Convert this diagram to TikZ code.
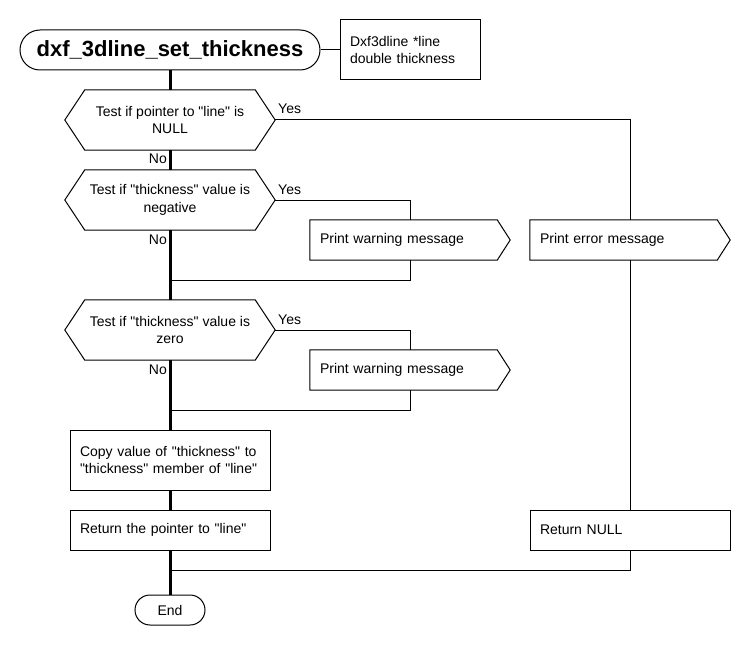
\documentclass[tikz,border=0pt]{standalone}
\usepackage{fontspec}
\setmainfont{Liberation Sans}[Ligatures=TeXOff]
\usetikzlibrary{calc}
\begin{document}
\begin{tikzpicture}[x=1pt,y=-1pt,
  every node/.style={font=\fontsize{14}{17.5}\selectfont},
  thin line/.style={draw=black,line width=1pt},
  thick line/.style={draw=black,line width=3pt},
  hexnode/.style={minimum width=210pt,minimum height=60pt,inner sep=0pt,align=center},
  sigbox/.style={minimum width=200pt,minimum height=40pt,text width=180pt,inner xsep=10pt,inner ysep=0pt,align=left},
  procbox/.style={draw=black,line width=1pt,minimum height=40pt,text width=180pt,inner xsep=10pt,inner ysep=0pt,align=left},
  lbl/.style={inner sep=0pt}
]
\useasboundingbox (0,0) rectangle (750,650);
% nodes
\node[draw=black,line width=1pt,rounded corners=20pt,minimum width=300pt,minimum height=40pt,inner sep=0pt,font=\fontsize{22}{26}\selectfont\bfseries] (title) at (170,50) {dxf\_3dline\_set\_thickness};
\node[draw=black,line width=1pt,minimum height=60pt,text width=120pt,inner xsep=10pt,inner ysep=0pt,align=left] (note) at (410,50) {Dxf3dline *line\\double thickness};
\node[hexnode] (d1) at (170,120) {Test if pointer to "line" is\\NULL};
\node[hexnode] (d2) at (170,200) {Test if "thickness" value is\\negative};
\node[hexnode] (d3) at (170,330) {Test if "thickness" value is\\zero};
\node[sigbox] (w1) at (410,240) {Print warning message};
\node[sigbox] (err) at (630,240) {Print error message};
\node[sigbox] (w2) at (410,370) {Print warning message};
\node[procbox,minimum height=60pt] (copy) at (170,460) {Copy value of "thickness" to\\"thickness" member of "line"};
\node[procbox] (ret) at (170,530) {Return the pointer to "line"};
\node[procbox] (retnull) at (630,530) {Return NULL};
\node[draw=black,line width=1pt,rounded corners=15pt,minimum width=70pt,minimum height=30pt,inner sep=0pt] (end) at (170,610) {End};
% outlines
\foreach \n in {d1,d2,d3}{
  \draw[thin line,line join=miter] ([xshift=20pt]\n.north west) -- ([xshift=-20pt]\n.north east) -- (\n.east) -- ([xshift=-20pt]\n.south east) -- ([xshift=20pt]\n.south west) -- (\n.west) -- cycle;
}
\foreach \n in {w1,err,w2}{
  \draw[thin line,line join=miter] (\n.north west) -- ([xshift=-13pt]\n.north east) -- (\n.east) -- ([xshift=-13pt]\n.south east) -- (\n.south west) -- cycle;
}
% junctions
\coordinate (j1) at (170,280);
\coordinate (j2) at (170,410);
\coordinate (j3) at (170,570);
% connectors
\draw[thin line] (title.east) -- (note.west);
\draw[thick line] (title.south) -- (d1.north);
\draw[thick line] (d1.south) -- (d2.north);
\draw[thick line] (d2.south) -- (d3.north);
\draw[thick line] (d3.south) -- (copy.north);
\draw[thick line] (copy.south) -- (ret.north);
\draw[thick line] (ret.south) -- (end.north);
\draw[thin line] (d1.east) -| (err.north);
\draw[thin line] (d2.east) -| (w1.north);
\draw[thin line] (w1.south) |- (j1);
\draw[thin line] (d3.east) -| (w2.north);
\draw[thin line] (w2.south) |- (j2);
\draw[thin line] (err.south) -- (retnull.north);
\draw[thin line] (retnull.south) |- (j3);
% labels
\node[lbl,anchor=base west] (y1) at (278,114) {Yes};
\node[lbl,anchor=base west] (y2) at (278,194) {Yes};
\node[lbl,anchor=base west] (y3) at (278,324) {Yes};
\node[lbl,anchor=base east] (n1) at (167,164) {No};
\node[lbl,anchor=base east] (n2) at (167,244) {No};
\node[lbl,anchor=base east] (n3) at (167,374) {No};
\end{tikzpicture}
\end{document}
